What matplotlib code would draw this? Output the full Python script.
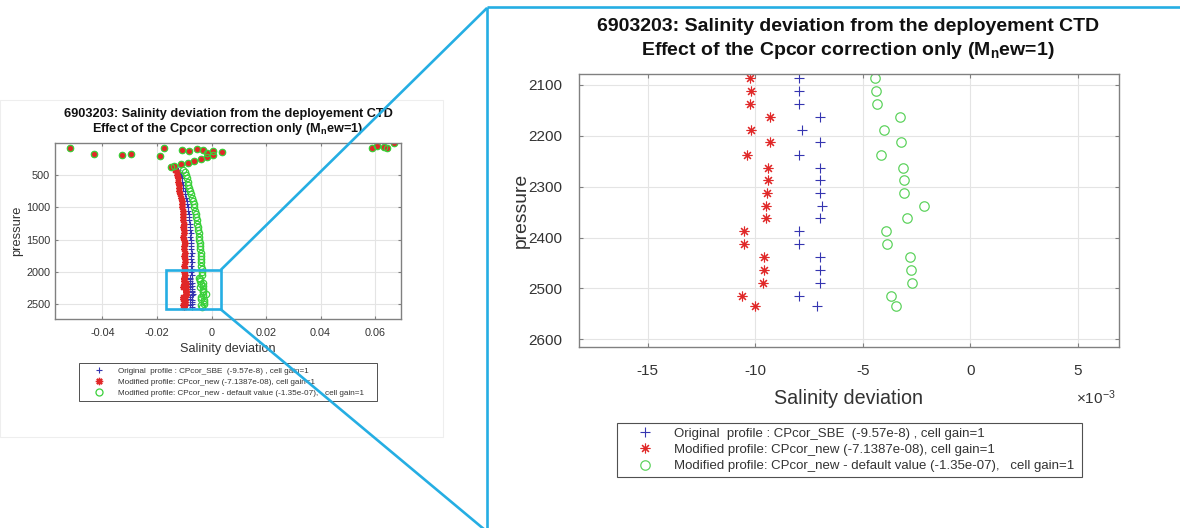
import matplotlib
matplotlib.use('Agg')
import matplotlib.pyplot as plt
from matplotlib.lines import Line2D
from matplotlib.patches import Rectangle
from matplotlib.ticker import FixedLocator, FuncFormatter

plt.rcParams['font.family'] = ['Liberation Sans', 'DejaVu Sans']
plt.rcParams['axes.unicode_minus'] = False
plt.rcParams['mathtext.fontset'] = 'custom'
plt.rcParams['mathtext.rm'] = 'Liberation Sans'
plt.rcParams['mathtext.it'] = 'Liberation Sans:italic'
plt.rcParams['mathtext.bf'] = 'Liberation Sans:bold'

# ---------------- data ----------------
title_line1 = "6903203: Salinity deviation from the deployement CTD"
title_line2 = r"Effect of the Cpcor correction only (M$_\mathbf{n}$ew=1)"
xlabel = "Salinity deviation"
ylabel = "pressure"
legend_labels = [
    "Original  profile : CPcor_SBE  (-9.57e-8) , cell gain=1",
    "Modified profile: CPcor_new (-7.1387e-08), cell gain=1",
    "Modified profile: CPcor_new - default value (-1.35e-07),   cell gain=1",
]

# shallow scattered points (shared by the three profiles)
p_shallow = [11, 48, 64, 79, 88, 88, 88, 103, 119, 114, 130, 130, 150, 165, 171,
             181, 191, 191, 202, 222, 253, 284, 315, 335, 356, 381]
s_shallow = [0.0668, 0.0607, 0.0634, 0.0644, 0.0587, -0.0519, -0.0174, -0.0055,
             -0.0031, -0.0109, 0.0006, -0.0082, 0.0040, -0.0015, -0.0294, -0.0431,
             -0.0330, 0.0004, -0.0190, -0.0015, -0.0039, -0.0064, -0.0088, -0.0113,
             -0.0137, -0.0147]

# mid-depth profile
p_mid = [420, 450, 500, 550, 600, 650, 700, 750, 800, 850, 900, 950, 1000, 1050,
         1100, 1150, 1200, 1250, 1300, 1350, 1400, 1450, 1500, 1550, 1600, 1650,
         1700, 1750, 1800, 1850, 1900, 1950, 2000, 2050]
blue_mid = [-0.0122, -0.0115, -0.0112, -0.0109, -0.0107, -0.0104, -0.0103, -0.0099,
            -0.0097, -0.0094, -0.0091, -0.0089, -0.0088, -0.0085, -0.0083, -0.0083,
            -0.0081, -0.0079, -0.0080, -0.0078, -0.0077, -0.0078, -0.0076, -0.0074,
            -0.0076, -0.0075, -0.0073, -0.0075, -0.0074, -0.0072, -0.0074, -0.0073,
            -0.0075, -0.0073]
red_mid = [-0.0135, -0.0128, -0.0127, -0.0124, -0.0122, -0.0120, -0.0121, -0.0118,
           -0.0116, -0.0113, -0.0110, -0.0108, -0.0109, -0.0106, -0.0104, -0.0106,
           -0.0103, -0.0101, -0.0104, -0.0102, -0.0100, -0.0103, -0.0101, -0.0099,
           -0.0102, -0.0100, -0.0098, -0.0101, -0.0099, -0.0097, -0.0100, -0.0098,
           -0.0101, -0.0099]
green_mid = [-0.0105, -0.0098, -0.0092, -0.0090, -0.0088, -0.0085, -0.0082, -0.0078,
             -0.0075, -0.0072, -0.0069, -0.0066, -0.0063, -0.0060, -0.0058, -0.0056,
             -0.0054, -0.0052, -0.0050, -0.0049, -0.0047, -0.0046, -0.0045, -0.0043,
             -0.0042, -0.0041, -0.0040, -0.0039, -0.0038, -0.0037, -0.0037, -0.0036,
             -0.0036, -0.0035]

# deep part (shown in the zoomed panel)
p_deep = [2087, 2112, 2137, 2163, 2188, 2213, 2238, 2263, 2287, 2312, 2337, 2362,
          2387, 2412, 2438, 2463, 2489, 2514, 2535]
blue_deep = [-7.95e-3, -7.95e-3, -7.95e-3, -6.98e-3, -7.83e-3, -6.98e-3, -7.95e-3,
             -6.98e-3, -6.98e-3, -6.98e-3, -6.90e-3, -6.98e-3, -7.95e-3, -7.95e-3,
             -6.98e-3, -6.98e-3, -6.98e-3, -7.95e-3, -7.13e-3]
red_deep = [-10.23e-3, -10.20e-3, -10.23e-3, -9.30e-3, -10.20e-3, -9.33e-3, -10.39e-3,
            -9.43e-3, -9.43e-3, -9.46e-3, -9.49e-3, -9.49e-3, -10.54e-3, -10.54e-3,
            -9.58e-3, -9.61e-3, -9.64e-3, -10.62e-3, -10.03e-3]
green_deep = [-4.42e-3, -4.37e-3, -4.34e-3, -3.29e-3, -4.00e-3, -3.21e-3, -4.15e-3,
              -3.12e-3, -3.07e-3, -3.06e-3, -2.14e-3, -2.95e-3, -3.91e-3, -3.86e-3,
              -2.81e-3, -2.76e-3, -2.73e-3, -3.67e-3, -3.44e-3]

left_xticks = [-0.04, -0.02, 0, 0.02, 0.04, 0.06]
left_yticks = [500, 1000, 1500, 2000, 2500]
right_xticks = [-15e-3, -10e-3, -5e-3, 0, 5e-3]
right_yticks = [2100, 2200, 2300, 2400, 2500, 2600]

# ---------------- styles ----------------
C_BLUE = '#3535b0'
C_RED = '#e02828'
C_GREEN = '#5fd35f'
C_ANNOT = '#25aee3'
C_SPINE = '#808080'
C_TXT = '#333333'
ASTERISK = (8, 2, 0)

W, H = 1180, 528
fig = plt.figure(figsize=(W / 100, H / 100), dpi=100)


def fx(x):
    return x / W


def fy(y):
    return 1 - y / H


def rect(x0, y0, x1, y1):
    return [fx(x0), fy(y1), (x1 - x0) / W, (y1 - y0) / H]


def style(ax, fs, ticklen, padx, pady):
    for s in ax.spines.values():
        s.set_color(C_SPINE)
        s.set_linewidth(1.0)
    ax.tick_params(direction='in', length=ticklen, width=0.8, color=C_SPINE,
                   labelcolor=C_TXT, labelsize=fs, top=True, right=True)
    ax.tick_params(axis='x', pad=padx)
    ax.tick_params(axis='y', pad=pady)
    ax.grid(True, color='#e4e4e4', linewidth=0.8)
    ax.set_axisbelow(True)


p_all = p_shallow + p_mid + p_deep

# ---------------- left (overview) panel ----------------
axL = fig.add_axes(rect(55, 143.3, 401, 319.3))
lb = axL.plot(s_shallow + blue_mid + blue_deep, p_all, '+',
              color=C_BLUE, ms=4.2, mew=0.8)[0]
lr = axL.plot(s_shallow + red_mid + red_deep, p_all, marker=ASTERISK, ls='none',
              color=C_RED, ms=4.8, mew=1.0)[0]
lg = axL.plot(s_shallow + green_mid + green_deep, p_all, 'o',
              color='#3ad03a', mfc='none', ms=4.6, mew=0.9)[0]
axL.set_xlim(-0.0574, 0.0695)
axL.set_ylim(2731, 8)
axL.xaxis.set_major_locator(FixedLocator(left_xticks))
axL.yaxis.set_major_locator(FixedLocator(left_yticks))
axL.xaxis.set_major_formatter(FuncFormatter(lambda v, p: f'{v:g}'))
style(axL, 7.8, 2.2, 6.0, 3.5)

fig.text(fx(228), fy(116.7), title_line1, ha='center', va='baseline',
         fontsize=9.2, weight='bold', color='#111111')
fig.text(fx(228), fy(131.7), title_line2, ha='center', va='baseline',
         fontsize=9.2, weight='bold', color='#111111')
fig.text(fx(228), fy(352), xlabel, ha='center', va='baseline', fontsize=9.1, color=C_TXT)
fig.text(fx(17), fy(231), ylabel, ha='center', va='center', rotation=90,
         fontsize=9.3, color=C_TXT)

legL = axL.legend([lb, lr, lg], legend_labels, loc='upper left',
                  bbox_to_anchor=(fx(79), fy(400), (377.3 - 79) / W, 36.7 / H),
                  bbox_transform=fig.transFigure, mode='expand', borderaxespad=0,
                  fontsize=5.9, frameon=True, fancybox=False, framealpha=1,
                  edgecolor='#505050', borderpad=0.45, handlelength=3.9,
                  handletextpad=0.45, labelspacing=0.42, markerscale=1.1)
legL.get_frame().set_linewidth(0.7)
for t in legL.get_texts():
    t.set_color(C_TXT)

# ---------------- right (zoomed) panel ----------------
axR = fig.add_axes(rect(579, 74, 1119, 346.7))
rb = axR.plot(blue_deep, p_deep, '+', color=C_BLUE, ms=6.5, mew=0.8)[0]
rr = axR.plot(red_deep, p_deep, marker=ASTERISK, ls='none', color=C_RED, ms=7, mew=0.8)[0]
rg = axR.plot(green_deep, p_deep, 'o', color=C_GREEN, mfc='none', ms=6.8, mew=0.9)[0]
axR.set_xlim(-18.2e-3, 6.92e-3)
axR.set_ylim(2614.5, 2078.4)
axR.xaxis.set_major_locator(FixedLocator(right_xticks))
axR.yaxis.set_major_locator(FixedLocator(right_yticks))
axR.xaxis.set_major_formatter(FuncFormatter(lambda v, p: f'{round(v * 1e3):g}'))
style(axR, 11, 3.2, 12.2, 12.2)

fig.text(fx(848), fy(31), title_line1, ha='center', va='baseline',
         fontsize=14, weight='bold', color='#111111')
fig.text(fx(848), fy(55), title_line2, ha='center', va='baseline',
         fontsize=14, weight='bold', color='#111111')
fig.text(fx(849), fy(403.6), xlabel, ha='center', va='baseline', fontsize=14.2, color=C_TXT)
fig.text(fx(521), fy(210.5), ylabel, ha='center', va='center', rotation=90,
         fontsize=13.9, color=C_TXT)
fig.text(fx(1076), fy(404), r'$\times10^{-3}$', ha='left', va='baseline',
         fontsize=11, color=C_TXT)

legR = axR.legend([rb, rr, rg], legend_labels, loc='upper left',
                  bbox_to_anchor=(fx(616.8), fy(485.4), (1081.8 - 616.8) / W, 62.5 / H),
                  bbox_transform=fig.transFigure, mode='expand', borderaxespad=0,
                  fontsize=9.5, frameon=True, fancybox=False, framealpha=1,
                  edgecolor='#505050', borderpad=0.35, handlelength=3.6,
                  handletextpad=0.4, labelspacing=0.3)
legR.get_frame().set_linewidth(0.8)
for t in legR.get_texts():
    t.set_color(C_TXT)

# ---------------- annotation overlay ----------------
fig.add_artist(Rectangle((0, fy(437)), fx(443), (437 - 100) / H, transform=fig.transFigure,
                         fill=False, edgecolor='#eeeeee', lw=0.8, zorder=5))
fig.add_artist(Rectangle((fx(166), fy(309.3)), (220.7 - 166) / W, (309.3 - 270) / H,
                         transform=fig.transFigure, fill=False, edgecolor=C_ANNOT,
                         lw=1.9, zorder=10))
for (xa, ya, xb, yb) in [(220.7, 270, 487, 8), (220.7, 309.3, 485, 530),
                         (487, 7, 1182, 7), (487, 7, 487, 530)]:
    fig.add_artist(Line2D([fx(xa), fx(xb)], [fy(ya), fy(yb)], transform=fig.transFigure,
                          color=C_ANNOT, lw=1.9, zorder=10, solid_capstyle='butt'))

fig.savefig('out.png', dpi=100)
